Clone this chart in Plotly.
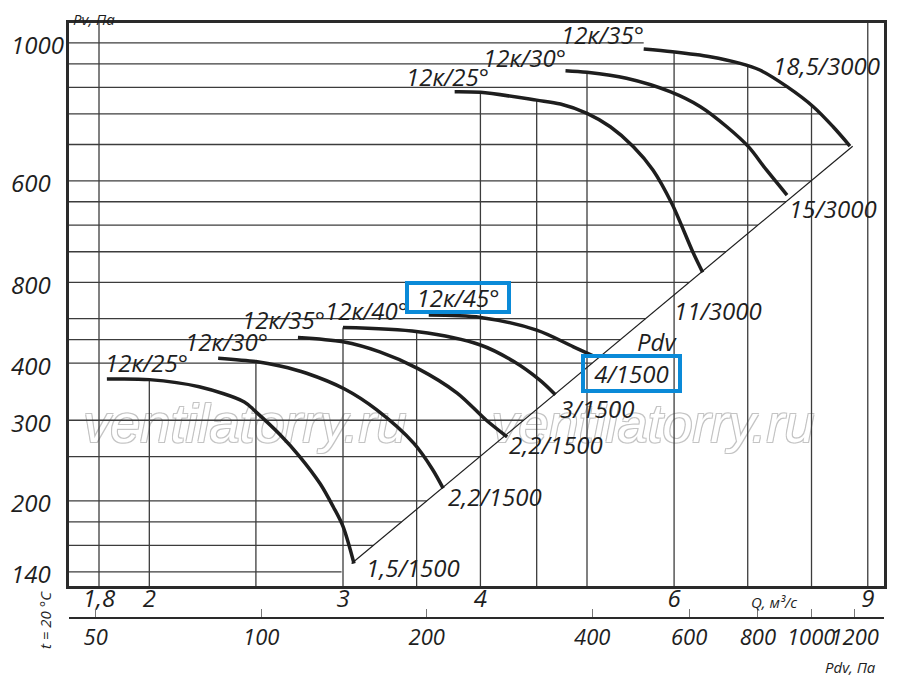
import numpy as np
import plotly.graph_objects as go

# ---- values: Q in m3/s, Pv in Pa ----
# 3000 rpm curves
q_25_3000 = [3.79, 4.0, 4.5, 4.73, 5.0, 5.25, 5.51, 5.74, 5.97, 6.24, 6.37]
p_25_3000 = [1565, 1560, 1500, 1471, 1404, 1312, 1187, 1056, 893, 699, 631]
q_30_3000 = [4.78, 5.0, 5.43, 5.95, 6.34, 6.7, 7.01, 7.28, 7.6]
p_30_3000 = [1739, 1725, 1674, 1565, 1451, 1312, 1187, 1056, 931]
q_35_3000 = [5.63, 5.98, 6.47, 6.89, 7.18, 7.6, 8.03, 8.37, 8.67]
p_35_3000 = [1940, 1913, 1866, 1805, 1745, 1605, 1451, 1312, 1191]

# 1500 rpm curves
q_25_1500 = [1.83, 2.0, 2.22, 2.44, 2.5, 2.63, 2.74, 2.86, 2.94, 3.0, 3.07]
p_25_1500 = [369, 368, 355, 329, 313, 279, 250, 218, 194, 176, 146]
q_30_1500 = [2.31, 2.5, 2.63, 2.78, 3.01, 3.22, 3.48, 3.62, 3.7]
p_30_1500 = [410, 403, 394, 380, 351, 316, 267, 234, 213]
q_35_1500 = [2.73, 3.0, 3.24, 3.51, 3.81, 4.05, 4.23]
p_35_1500 = [455, 445, 423, 389, 344, 300, 276]
q_40_1500 = [3.0, 3.51, 4.0, 4.29, 4.53, 4.68]
p_40_1500 = [478, 468, 438, 403, 367, 341]
q_45_1500 = [3.59, 4.0, 4.5, 4.86, 5.07]
p_45_1500 = [509, 503, 472, 434, 414]

# dynamic pressure line (Pdv), drawn on the Pdv axis
pdv_line = [146, 1190]

# grid and tick values
grid_q = [1.8, 2, 2.5, 3, 3.5, 4, 4.5, 5, 6, 7, 8, 9]
grid_p = [140, 160, 180, 200, 250, 300, 400, 450, 500, 600, 700, 800, 900, 1000, 1200, 1400, 1600, 1800, 2000]
q_ticks = [1.8, 2, 3, 4, 6, 9]
q_ticktext = ["1,8", "2", "3", "4", "6", "9"]
pdv_ticks = [50, 100, 200, 400, 600, 800, 1000, 1200]
pdv_ticktext = ["50", "100", "200", "400", "600", "800", "1000", "1200"]
y_label_at = [2000, 1000, 600, 400, 300, 200, 140]
y_label_text = ["1000", "600", "800", "400", "300", "200", "140"]

# axis set-up
Q_RANGE = [0.228, 0.969]       # log10 Q
P_RANGE = [2.1152, 3.3445]     # log10 Pv
PDV_K = 15.65                  # Pdv = K * Q^2 links the two bottom scales

FONT = "Open Sans"
INK = "#1e1e1e"

curves = [
    (q_25_3000, p_25_3000), (q_30_3000, p_30_3000), (q_35_3000, p_35_3000),
    (q_25_1500, p_25_1500), (q_30_1500, p_30_1500), (q_35_1500, p_35_1500),
    (q_40_1500, p_40_1500), (q_45_1500, p_45_1500),
]


def envelope(q):
    """Highest curve value at flow q (None if no curve covers q)."""
    tops = []
    for cq, cp in curves:
        if cq[0] - 1e-9 <= q <= cq[-1] + 1e-9:
            tops.append(10 ** np.interp(np.log10(q), np.log10(cq), np.log10(cp)))
    return max(tops) if tops else None


def row_end(v):
    """Where a horizontal grid line stops: at the outer curve or at the Pdv line."""
    qs = np.logspace(Q_RANGE[0], Q_RANGE[1], 3000)
    inside = [q for q in qs if (envelope(q) or 0) >= v]
    if inside:
        q_env = max(inside)
    else:
        top = max(curves, key=lambda c: max(c[1]))
        q_env = top[0][0]
    return min(q_env, np.sqrt(v / PDV_K))


# grid lines, clipped like the original drawing
gx, gy = [], []
p_lo, p_hi = 10 ** P_RANGE[0], 10 ** P_RANGE[1]
for q in grid_q:
    top = envelope(q)
    gx += [q, q, None]
    gy += [p_lo, top if top else p_hi, None]
for v in grid_p:
    gx += [10 ** Q_RANGE[0], row_end(v), None]
    gy += [v, v, None]

fig = go.Figure()

# watermark goes underneath everything else
outline = "-1px -1px 0 #c4c4c4, 1px -1px 0 #c4c4c4, -1px 1px 0 #c4c4c4, 1px 1px 0 #c4c4c4"
fig.add_trace(go.Scatter(x=[2.443, 5.741], y=[288, 288], mode="text",
                         text=["ventilatorry.ru"] * 2, textposition="middle center",
                         textfont=dict(family="Liberation Sans", size=54, color="white",
                                       style="italic", shadow=outline),
                         hoverinfo="skip", showlegend=False))
fig.add_trace(go.Scatter(x=gx, y=gy, mode="lines",
                         line=dict(color="#3c3c3c", width=1.3),
                         hoverinfo="skip", showlegend=False))
fig.add_trace(go.Scatter(x=pdv_line, y=pdv_line, xaxis="x2", yaxis="y", mode="lines",
                         line=dict(color=INK, width=1.2),
                         hoverinfo="skip", showlegend=False))
for cq, cp in curves:
    fig.add_trace(go.Scatter(x=cq, y=cp, mode="lines",
                             line=dict(color=INK, width=3.5, shape="spline", smoothing=0.9),
                             showlegend=False))

# curve labels (text, Q, Pv)
labels = [
    ("12к/35°", 5.17, 2082), ("12к/30°", 4.39, 1854), ("12к/25°", 3.73, 1693),
    ("18,5/3000", 8.25, 1789), ("15/3000", 8.37, 872), ("11/3000", 6.58, 522),
    ("Pdv", 5.79, 445), ("3/1500", 5.11, 319), ("2,2/1500", 4.69, 265),
    ("2,2/1500", 4.12, 205), ("1,5/1500", 3.47, 143), ("12к/40°", 3.15, 522),
    ("12к/35°", 2.65, 499), ("12к/30°", 2.35, 445), ("12к/25°", 1.99, 402),
]
boxed = [("12к/45°", 3.816, 556, 98, 25), ("4/1500", 5.488, 380, 93, 31)]

italic = dict(family=FONT, size=24, color=INK, style="italic")
tickf = dict(family=FONT, size=22, color=INK, style="italic")
small = dict(family=FONT, size=15, color=INK, style="italic")
ann = []
for text, q, p in labels:
    ann.append(dict(text=text, x=np.log10(q), y=np.log10(p), xref="x", yref="y",
                    showarrow=False, font=italic))
for text, q, p, w, h in boxed:
    ann.append(dict(text=text, x=np.log10(q), y=np.log10(p), xref="x", yref="y",
                    showarrow=False, font=italic, width=w, height=h,
                    bordercolor="#0a8ad8", borderwidth=4, borderpad=0))
for v, t in zip(y_label_at, y_label_text):
    ann.append(dict(text=t, x=-0.0736, xanchor="left", y=np.log10(v), yanchor="middle",
                    yshift=-2, xref="paper", yref="y", showarrow=False, font=italic))

ann += [
    dict(text="Pv, Па", x=0.0307, y=1.0063, xref="paper", yref="paper"),
    dict(text="Q, м³/с", x=np.log10(7.4), y=0.081, xref="x", yref="paper"),
    dict(text="Pdv, Па", x=0.9595, y=-0.0222, xref="paper", yref="paper"),
    dict(text="t = 20 °C", x=-0.0294, y=0.0524, xref="paper", yref="paper", textangle=-90),
]
for a in ann[-4:]:
    a.update(showarrow=False, font=small, xanchor="center", yanchor="middle")

# page body keeps an 8px margin, so the figure is sized to fit inside it
fig.update_layout(
    width=884, height=677,
    margin=dict(l=61, r=8, t=15, b=32, autoexpand=False),
    paper_bgcolor="white", plot_bgcolor="white",
    font=italic,
    showlegend=False,
    xaxis=dict(type="log", range=Q_RANGE, showgrid=False, zeroline=False,
               tickvals=q_ticks, ticktext=q_ticktext, ticks="", tickangle=0,
               ticklabelstandoff=-11,
               showline=True, mirror=True, linecolor="#2a2a2a", linewidth=2.5,
               tickfont=italic),
    xaxis2=dict(type="log", overlaying="x", anchor="free", position=0.0556, side="bottom",
                range=[np.log10(PDV_K) + 2 * Q_RANGE[0], np.log10(PDV_K) + 2 * Q_RANGE[1]],
                showgrid=False, zeroline=False,
                tickvals=pdv_ticks, ticktext=pdv_ticktext, tickangle=0,
                ticks="inside", ticklen=8, tickwidth=1, tickcolor="#777",
                showline=True, linecolor="#2a2a2a", linewidth=2, tickfont=tickf),
    yaxis=dict(type="log", range=P_RANGE, domain=[0.1063, 1], showgrid=False, zeroline=False,
               showticklabels=False, ticks="",
               showline=True, mirror=True, linecolor="#2a2a2a", linewidth=2.5),
    annotations=ann,
)

fig.write_html("out.html")
